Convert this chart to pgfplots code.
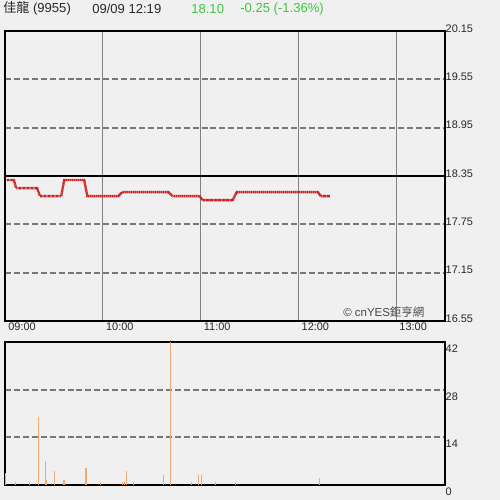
\documentclass[border=0pt]{standalone}
\usepackage{pgfplots}
\pgfplotsset{compat=1.18}
\usepackage{fontspec}
\setmainfont{Liberation Sans}
\newfontfamily\cjk{Noto Sans CJK TC}
\definecolor{bg}{RGB}{240,240,240}
\definecolor{gridd}{RGB}{120,120,120}
\definecolor{gridv}{RGB}{130,130,130}
\definecolor{pline}{RGB}{206,32,32}
\definecolor{vol}{RGB}{242,168,110}
\definecolor{upg}{RGB}{60,200,60}
\definecolor{txt}{RGB}{40,40,40}
\begin{document}
\begin{tikzpicture}
\useasboundingbox (0pt,0pt) rectangle (375pt,-375pt);
\fill[bg] (0pt,0pt) rectangle (375pt,-375pt);
\node[anchor=west, inner sep=0pt, text=txt, font=\fontsize{9.8}{11}\selectfont] at (2.3pt,-6.5pt) {{\cjk 佳龍} (9955)};
\node[anchor=west, inner sep=0pt, text=txt, font=\fontsize{9.8}{11}\selectfont] at (69pt,-6.5pt) {09/09 12:19};
\node[anchor=west, inner sep=0pt, text=upg, font=\fontsize{9.8}{11}\selectfont] at (143.3pt,-6.5pt) {18.10};
\node[anchor=west, inner sep=0pt, text=upg, font=\fontsize{9.8}{11}\selectfont] at (180pt,-6.5pt) {-0.25 (-1.36\%)};
\begin{axis}[
  at={(3.75pt,-23.25pt)}, anchor=north west,
  width=330pt, height=217.5pt, scale only axis,
  xmin=0, xmax=270, ymin=16.55, ymax=20.15,
  axis line style={black, line width=1.1pt},
  xtick={0,60,120,180,240},
  xticklabels={09:00,10:00,11:00,12:00,13:00},
  xtick style={draw=none},
  xticklabel style={anchor=north west, xshift=-1pt, yshift=2pt},
  ytick={16.55,17.15,17.75,18.35,18.95,19.55,20.15},
  yticklabels={16.55,17.15,17.75,18.35,18.95,19.55,20.15},
  ytick style={draw=none},
  yticklabel pos=right,
  yticklabel style={anchor=west, xshift=-3pt, yshift=2pt},
  /pgf/number format/assume math mode=true,
  tick label style={font=\fontsize{8.2}{9}\selectfont, text=txt},
  xmajorgrids, ymajorgrids,
  x grid style={gridv, line width=0.6pt},
  y grid style={gridd, line width=1.35pt, dash pattern=on 4.5pt off 2.2pt},
  clip=false,
]
\addplot[black, line width=0.9pt, forget plot] coordinates {(0,18.35) (270,18.35)};
\addplot[pline, line width=1.8pt, dash pattern=on 0.7pt off 0.3pt] coordinates {
(1,18.30) (5.5,18.30) (6.8,18.20) (19.7,18.20) (21.5,18.10) (34.5,18.10)
(36.3,18.30) (48.6,18.30) (50.5,18.10) (69.5,18.10) (72,18.15) (100.3,18.15)
(102.8,18.10) (119.4,18.10) (121.2,18.05) (139.7,18.05) (142.2,18.15)
(192,18.15) (193.8,18.10) (199.4,18.10)
};
\node[anchor=base east, inner sep=0pt, text=txt!85, font=\fontsize{8.6}{9}\selectfont] at (axis cs:257.5,16.61) {© cnYES{\cjk 鉅亨網}};
\end{axis}
\begin{axis}[
  at={(3.75pt,-256.5pt)}, anchor=north west,
  width=330pt, height=107.25pt, scale only axis,
  xmin=0, xmax=270, ymin=0, ymax=42,
  axis line style={black, line width=1.1pt},
  xtick=\empty,
  ytick={0,14,28,42},
  ytick style={draw=none},
  yticklabel pos=right,
  yticklabel style={anchor=west, xshift=-3pt, yshift=-5pt},
  /pgf/number format/assume math mode=true,
  tick label style={font=\fontsize{8.2}{9}\selectfont, text=txt},
  ymajorgrids,
  y grid style={gridd, line width=1.35pt, dash pattern=on 4.5pt off 2.2pt},
]
\addplot[vol, ycomb, line width=0.8pt] coordinates {
(0.3,3.4) (6.6,1) (15,1) (20.5,20) (24.6,7) (25.2,1.5) (30.3,4)
(35.7,1.5) (36.3,1.5) (49.7,5) (58.5,1) (72,1) (73.2,1) (74.5,4)
(78.6,1) (97.4,3) (101.7,42.5) (114.5,1) (118.6,3) (120.3,3)
(129.2,1) (141.5,1) (193.2,2)
};
\end{axis}
\end{tikzpicture}
\end{document}
